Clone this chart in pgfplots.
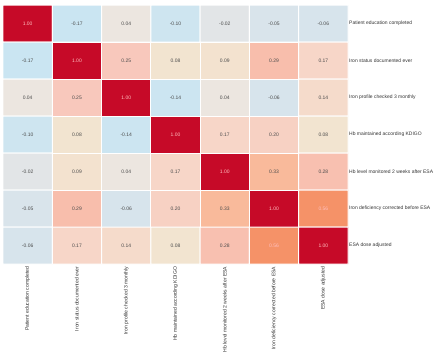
\documentclass[border=0pt]{standalone}
\usepackage{pgfplots}
\pgfplotsset{compat=1.18}
\usepackage{fontspec}
\setmainfont{Liberation Sans}
\pgfplotstableread{
x y c
0 0 1.00
1 0 -0.17
2 0 0.04
3 0 -0.10
4 0 -0.02
5 0 -0.05
6 0 -0.06
0 1 -0.17
1 1 1.00
2 1 0.25
3 1 0.08
4 1 0.09
5 1 0.29
6 1 0.17
0 2 0.04
1 2 0.25
2 2 1.00
3 2 -0.14
4 2 0.04
5 2 -0.06
6 2 0.14
0 3 -0.10
1 3 0.08
2 3 -0.14
3 3 1.00
4 3 0.17
5 3 0.20
6 3 0.08
0 4 -0.02
1 4 0.09
2 4 0.04
3 4 0.17
4 4 1.00
5 4 0.33
6 4 0.28
0 5 -0.05
1 5 0.29
2 5 -0.06
3 5 0.20
4 5 0.33
5 5 1.00
6 5 0.56
0 6 -0.06
1 6 0.17
2 6 0.14
3 6 0.08
4 6 0.28
5 6 0.56
6 6 1.00
}\corr
\begin{document}
\begin{tikzpicture}
\path[use as bounding box] (0,0) rectangle (436bp,-361bp);
\begin{axis}[
  at={(3bp,-5bp)}, anchor=north west,
  scale only axis, width=345bp, height=259bp,
  xmin=-0.5, xmax=6.5, ymin=-0.5, ymax=6.5, y dir=reverse,
  enlargelimits=false,
  axis line style={draw=none}, tick style={draw=none},
  xtick={0,...,6}, ytick={0,...,6},
  xticklabels={Patient education completed, Iron status documented ever, Iron profile checked 3 monthly, Hb maintained according KDIGO, Hb level monitored 2 weeks after ESA, Iron deficiency corrected before ESA, ESA dose adjusted},
  yticklabels={Patient education completed, Iron status documented ever, Iron profile checked 3 monthly, Hb maintained according KDIGO, Hb level monitored 2 weeks after ESA, Iron deficiency corrected before ESA, ESA dose adjusted},
  yticklabel pos=right,
  x tick label style={rotate=90, anchor=east, font=\fontsize{5.1}{6}\selectfont, text=black!80, inner sep=1pt, xshift=-1.5bp},
  y tick label style={anchor=west, font=\fontsize{5}{6}\selectfont, text=black!80, inner sep=1pt},
  colormap={corr}{
    rgb255(0pt)=(200,229,243);
    rgb255(10pt)=(206,229,240);
    rgb255(15pt)=(217,228,235);
    rgb255(20pt)=(232,229,229);
    rgb255(24pt)=(236,230,224);
    rgb255(28pt)=(242,228,208);
    rgb255(37pt)=(247,214,200);
    rgb255(45pt)=(248,200,188);
    rgb255(49pt)=(248,190,172);
    rgb255(53pt)=(249,186,155);
    rgb255(76pt)=(245,146,104);
    rgb255(120pt)=(198,10,40)},
  point meta min=-0.2, point meta max=1,
]
\addplot[matrix plot, mesh/cols=7, point meta=explicit, draw=white, line width=1pt] table[x=x, y=y, meta=c] {\corr};
\addplot[draw=none, mark=none, point meta=explicit,
  nodes near coords={\pgfmathfloattofixed{\pgfplotspointmeta}\let\cval\pgfmathresult\ifdim\cval pt>0.5pt \color{white!75!red}\fi\pgfmathprintnumber[fixed,fixed zerofill,precision=2,assume math mode=true]{\pgfplotspointmeta}},
  nodes near coords align=center,
  every node near coord/.append style={font=\fontsize{5}{6}\selectfont, text=black!70, anchor=center}
] table[x=x, y=y, meta=c] {\corr};
\end{axis}
\end{tikzpicture}
\end{document}
